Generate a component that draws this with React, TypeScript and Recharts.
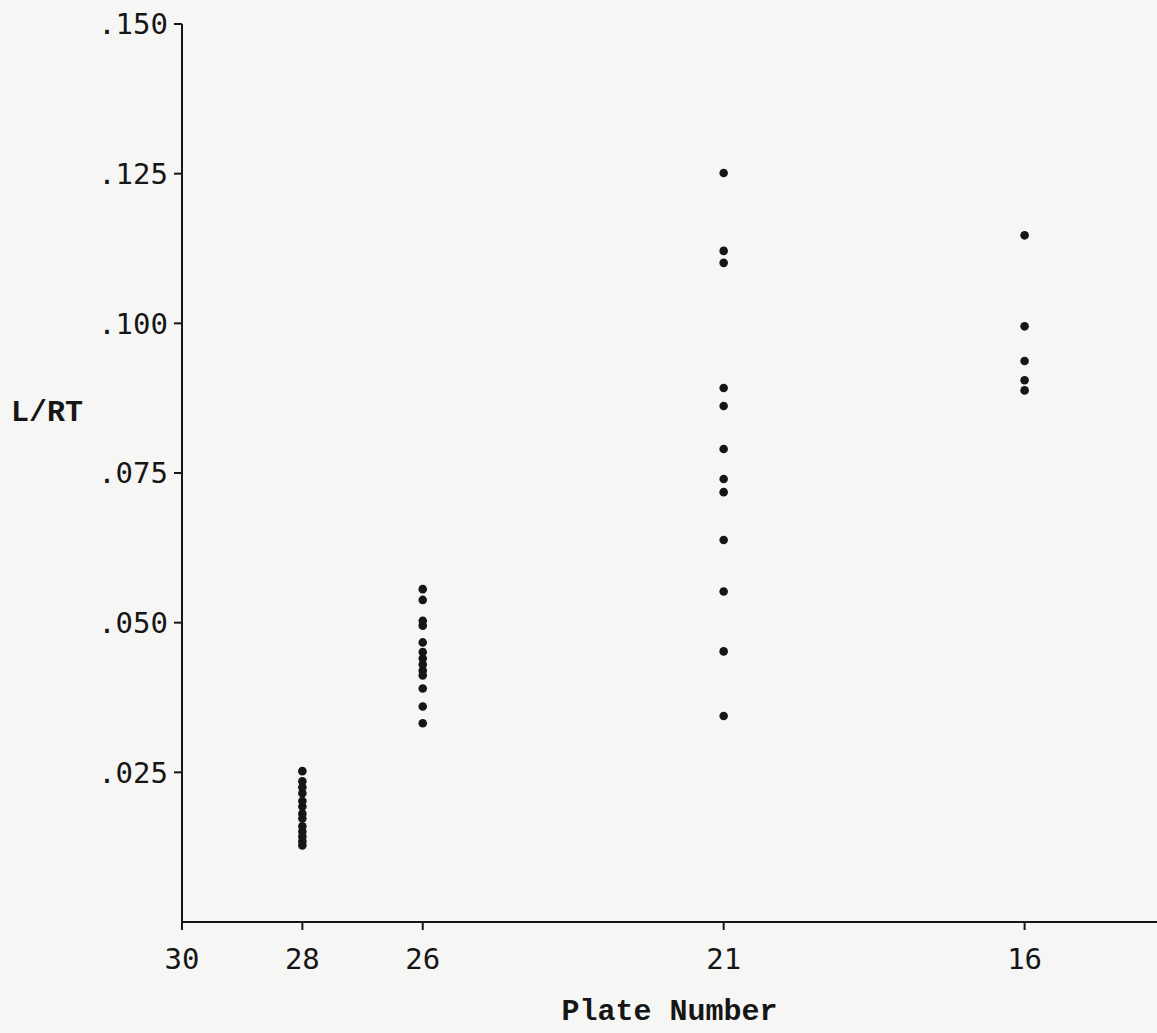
import React from 'react';
import { ScatterChart, Scatter, XAxis, YAxis, Label } from 'recharts';

// L/RT readings per plate
const plate28 = [0.0252, 0.0235, 0.0225, 0.0215, 0.0202, 0.0193, 0.0181, 0.0173, 0.016, 0.0151, 0.0143, 0.0135, 0.0128];
const plate26 = [0.0556, 0.0538, 0.0503, 0.0495, 0.0467, 0.0451, 0.044, 0.043, 0.042, 0.0412, 0.039, 0.036, 0.0332];
const plate21 = [0.1251, 0.1121, 0.1101, 0.0892, 0.0862, 0.079, 0.074, 0.0718, 0.0638, 0.0552, 0.0452, 0.0344];
const plate16 = [0.1147, 0.0995, 0.0937, 0.0905, 0.0888];

const plateTicks = [30, 28, 26, 21, 16];
const lrtTicks = [0.025, 0.05, 0.075, 0.1, 0.125, 0.15];

const toPoints = (plate: number, values: number[]) => values.map((v) => ({ plate, lrt: v }));

const series = [
  { plate: 28, values: plate28 },
  { plate: 26, values: plate26 },
  { plate: 21, values: plate21 },
  { plate: 16, values: plate16 },
];

const ink = '#161616';
const tickFont = { fill: ink, fontSize: 29, fontFamily: '"DejaVu Sans Mono", monospace' };
const labelFont = { fill: ink, fontSize: 30, fontWeight: 'bold', fontFamily: '"Liberation Mono", "Courier New", monospace' };

const Dot = (props: any) => <circle cx={props.cx} cy={props.cy} r={4.3} fill={ink} />;

const fmt = (v: number) => '.' + String(Math.round(v * 1000)).padStart(3, '0');

export default function App() {
  return (
    <div style={{ position: 'absolute', left: 0, top: 0, width: 1157, height: 1033, background: '#f6f6f4' }}>
      <ScatterChart width={1157} height={1033} margin={{ top: 24, right: 0, bottom: 1, left: 0 }}>
        <XAxis
          type="number"
          dataKey="plate"
          domain={[13.8, 30]}
          reversed
          ticks={plateTicks}
          interval={0}
          height={110}
          tickSize={8}
          tickMargin={18}
          tick={tickFont}
          axisLine={{ stroke: ink, strokeWidth: 2 }}
          tickLine={{ stroke: ink, strokeWidth: 2 }}
          allowDataOverflow
        >
          <Label value="Plate Number" position="insideBottom" offset={12} style={labelFont} />
        </XAxis>
        <YAxis
          type="number"
          dataKey="lrt"
          domain={[0, 0.15]}
          ticks={lrtTicks}
          interval={0}
          width={182}
          tickSize={8}
          tickMargin={6}
          tickFormatter={fmt}
          tick={tickFont}
          axisLine={{ stroke: ink, strokeWidth: 2 }}
          tickLine={{ stroke: ink, strokeWidth: 2 }}
          allowDataOverflow
        >
          <Label value="L/RT" position="insideLeft" offset={11} dy={-63} style={labelFont} />
        </YAxis>
        {series.map((s) => (
          <Scatter
            key={s.plate}
            data={toPoints(s.plate, s.values)}
            shape={<Dot />}
            isAnimationActive={false}
          />
        ))}
      </ScatterChart>
    </div>
  );
}
